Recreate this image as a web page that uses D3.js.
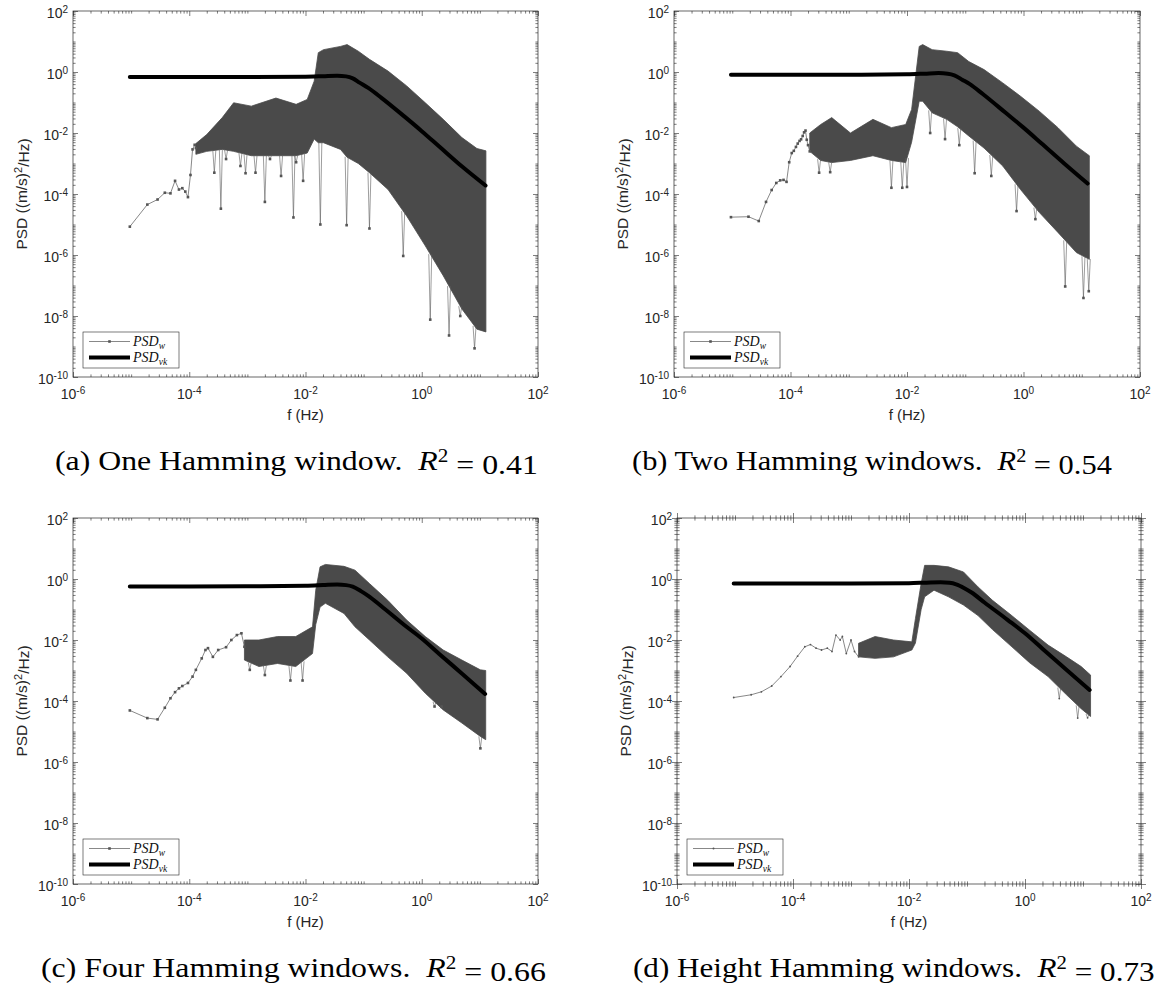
<!DOCTYPE html>
<html><head><meta charset="utf-8">
<script src="https://cdn.jsdelivr.net/npm/d3@7"></script>
<style>body{margin:0;background:#fff} svg{display:block}</style>
</head><body><svg id="c" width="1157" height="987"></svg>
<script>
// ---------- shared ticks / labels ----------
const xTicks=[1e-6,1e-4,1e-2,1,1e2];
const yTicks=[1e-10,1e-8,1e-6,1e-4,1e-2,1,1e2];
const captions=["(a) One Hamming window.","(b) Two Hamming windows.","(c) Four Hamming windows.","(d) Height Hamming windows."];
const r2Values=["0.41","0.54","0.66","0.73"];
const xLabel="f (Hz)";

// ---------- panel (a) ----------
const aSparseF=[9.5e-6,1.9e-5,2.85e-5,3.8e-5,4.75e-5,5.7e-5,6.65e-5,7.6e-5,8.55e-5,9.5e-5,1.05e-4,1.14e-4,1.24e-4,1.3e-4];
const aSparseP=[8.5e-6,4.5e-5,6.6e-5,1.1e-4,1.05e-4,2.7e-4,1.4e-4,1.55e-4,1.2e-4,7.9e-5,4.2e-4,2.9e-3,4.1e-3,3.2e-3];
const aBandF=[1.3e-4,2.0e-4,3.7e-4,5.8e-4,1.17e-3,3.1e-3,6.9e-3,1.07e-2,1.41e-2,1.66e-2,2.04e-2,4.0e-2,5.2e-2,8.1e-2,0.126,0.263,0.55,1.15,2.34,4.9,8.9,12.7];
const aBandHi=[4.5e-3,8.9e-3,3.2e-2,9.8e-2,7.6e-2,0.14,8.7e-2,0.126,0.5,4.3,5.4,6.9,7.9,4.8,2.6,1.07,0.35,9.8e-2,2.8e-2,7.1e-3,3.1e-3,2.6e-3];
const aBandLo=[2.0e-3,2.5e-3,2.9e-3,2.5e-3,1.8e-3,1.8e-3,1.8e-3,2.2e-3,6.3e-3,4.8e-3,4.8e-3,2.9e-3,1.6e-3,1e-3,5e-4,1.4e-4,1.9e-5,2e-6,2.1e-7,1.7e-8,3.7e-9,3e-9];
const aSpikeF=[2.7e-4,3.5e-4,4.3e-4,7.6e-4,9.3e-4,1.38e-3,2.0e-3,2.45e-3,3.8e-3,6.2e-3,6.9e-3,9.1e-3,1.8e-2,5.1e-2,0.126,0.48,1.4,2.95,4.6,8.1];
const aSpikeP=[5e-4,3.3e-5,1.4e-3,8.3e-4,4.8e-4,5e-4,5.5e-5,1.4e-3,3.9e-4,1.7e-5,1.1e-3,2.7e-4,1e-5,9.5e-6,7.4e-6,9.3e-7,7.6e-9,2.3e-9,1e-8,8.7e-10];
const aVkF=[9.5e-6,1e-4,1e-3,1e-2,2e-2,3.5e-2,5e-2,6.5e-2,8.5e-2,0.12,0.2,0.5,1,2,5,12.5];
const aVkP=[0.68,0.68,0.68,0.70,0.73,0.76,0.72,0.62,0.45,0.3,0.145,0.035,0.0115,0.0036,0.00078,0.00019];

// ---------- panel (b) ----------
const bSparseF=[9.5e-6,1.9e-5,2.85e-5,3.8e-5,4.75e-5,5.7e-5,6.65e-5,7.6e-5,8.55e-5,9.5e-5,1.05e-4,1.14e-4,1.24e-4,1.33e-4,1.43e-4,1.52e-4,1.62e-4,1.71e-4,1.81e-4,1.9e-4,2.0e-4,2.14e-4];
const bSparseP=[1.74e-5,1.8e-5,1.3e-5,5.5e-5,1.35e-4,2.3e-4,2.8e-4,2.9e-4,2.5e-4,1.1e-3,2.2e-3,2.6e-3,3.5e-3,4.5e-3,5.5e-3,6.2e-3,8e-3,1.05e-2,1.2e-2,6e-3,4e-3,2.5e-3];
const bBandF=[2.14e-4,3.3e-4,5.1e-4,1.07e-3,2.6e-3,5.4e-3,9.5e-3,1.2e-2,1.62e-2,1.86e-2,2.7e-2,4.8e-2,7.4e-2,0.115,0.21,0.44,0.89,1.86,3.9,8.1,13.5];
const bBandHi=[1.0e-2,1.9e-2,3.2e-2,1.0e-2,2.8e-2,1.5e-2,1.9e-2,5.9e-2,6.9,7.9,5.4,4.8,4.3,2.2,1.2,0.44,0.16,5.2e-2,1.5e-2,3.7e-3,1.8e-3];
const bBandLo=[2.5e-3,1.26e-3,1.07e-3,1.26e-3,1.8e-3,1.26e-3,1.07e-3,5e-3,0.11,0.11,4.6e-2,2.8e-2,1.6e-2,8e-3,3.2e-3,8.3e-4,1.4e-4,2.5e-5,5.5e-6,1.2e-6,7.2e-7];
const bSpikeF=[3.1e-4,4.8e-4,5.4e-3,8.3e-3,1e-2,2.5e-2,4.5e-2,7.9e-2,0.145,0.28,0.76,1.6,5.2,10.7,13.2];
const bSpikeP=[5e-4,5.2e-4,1.6e-4,1.6e-4,1.7e-4,1e-2,6.3e-3,4e-3,4.8e-4,3.9e-4,2.75e-5,1.5e-5,9.3e-8,3.9e-8,6.5e-8];
const bVkF=[9.5e-6,1e-4,1e-3,1e-2,2e-2,3.5e-2,5e-2,6.5e-2,9e-2,0.12,0.2,0.5,1,2,5,12.6];
const bVkP=[0.81,0.81,0.81,0.84,0.88,0.92,0.88,0.78,0.55,0.4,0.19,0.045,0.015,0.0047,0.001,0.00022];

// ---------- panel (c) ----------
const cSparseF=[9.5e-6,1.9e-5,2.85e-5,3.8e-5,4.75e-5,5.7e-5,6.65e-5,7.6e-5,9.5e-5,1.14e-4,1.3e-4,1.64e-4,1.9e-4,2.1e-4,2.55e-4,3.15e-4,4.3e-4,5.3e-4,6.6e-4,7.9e-4,8.9e-4];
const cSparseP=[4.9e-5,2.75e-5,2.5e-5,6e-5,1.23e-4,1.95e-4,2.6e-4,3.1e-4,3.9e-4,6.3e-4,1.05e-3,2.5e-3,4.7e-3,5.4e-3,2.8e-3,4.7e-3,5.8e-3,1.0e-2,1.45e-2,1.66e-2,6e-3];
const cBandF=[8.9e-4,1.58e-3,3.3e-3,6.8e-3,1.32e-2,1.5e-2,1.78e-2,2.2e-2,4.6e-2,7.1e-2,0.126,0.26,0.55,1.15,2.34,4.9,10.2,12.6];
const cBandHi=[1.0e-2,1.0e-2,1.3e-2,1.3e-2,2.7e-2,0.43,2.5,3.0,2.6,1.95,0.71,0.2,4.5e-2,1.3e-2,4.7e-3,2.2e-3,1.05e-3,1.0e-3];
const cBandLo=[2.2e-3,1.35e-3,1.7e-3,1.35e-3,3.6e-3,3.2e-2,0.12,0.16,7.4e-2,2.7e-2,1e-2,2.8e-3,8.1e-4,1.8e-4,5.1e-5,1.9e-5,6.9e-6,5.4e-6];
const cSpikeF=[1.1e-3,2.0e-3,5.5e-3,8.9e-3,1.66,2.2,10.2];
const cSpikeP=[1.05e-3,7.1e-4,4.7e-4,4.7e-4,6.6e-5,6.6e-5,2.8e-6];
const cVkF=[9.5e-6,1e-4,1e-3,1e-2,2e-2,3.5e-2,5e-2,6.5e-2,9e-2,0.12,0.2,0.5,1,2,5,12.3];
const cVkP=[0.57,0.57,0.58,0.60,0.63,0.66,0.63,0.56,0.4,0.28,0.13,0.031,0.0112,0.0035,0.00077,0.00017];

// ---------- panel (d) ----------
const dSparseF=[9.5e-6,1.9e-5,2.85e-5,4.3e-5,6.2e-5,8.9e-5,1.2e-4,1.6e-4,2.0e-4,2.5e-4,3.1e-4,3.9e-4,4.7e-4,5.5e-4,6.5e-4,7.1e-4,8.3e-4,1.0e-3,1.15e-3,1.35e-3];
const dSparseP=[1.3e-4,1.6e-4,2.0e-4,3.1e-4,6.3e-4,1.35e-3,2.95e-3,6.0e-3,7.1e-3,5.4e-3,4.7e-3,5.4e-3,4.2e-3,1.45e-2,1.0e-2,1.3e-2,3.6e-3,1.0e-2,4.2e-3,2.8e-3];
const dBandF=[1.35e-3,2.6e-3,5.4e-3,1.12e-2,1.29e-2,1.62e-2,1.86e-2,2.7e-2,4.8e-2,8.7e-2,0.155,0.275,0.575,1.2,2.5,5.2,9.3,13.5];
const dBandHi=[7.8e-3,1.3e-2,1.0e-2,8.7e-3,5e-2,0.71,2.8,2.8,2.5,1.7,0.55,0.2,6.6e-2,2.1e-2,6.8e-3,2.8e-3,1.35e-3,7.1e-4];
const dBandLo=[2.8e-3,2.5e-3,2.8e-3,4.7e-3,7.9e-3,0.1,0.26,0.43,0.26,0.14,6.3e-2,2.2e-2,6.3e-3,1.8e-3,6.3e-4,1.6e-4,5.6e-5,3.1e-5];
const dSpikeF=[3.9,8.1,12];
const dSpikeP=[1.2e-4,2.75e-5,2.8e-5];
const dVkF=[9.5e-6,1e-4,1e-3,1e-2,2e-2,3.5e-2,5e-2,6.5e-2,9e-2,0.12,0.2,0.5,1,2,5,13];
const dVkP=[0.71,0.71,0.71,0.73,0.76,0.78,0.75,0.67,0.5,0.36,0.17,0.046,0.0166,0.0052,0.00113,0.00023];

// ---------- layout ----------
const layout=[
 {L:73,R:538,T:11,B:377,capX:55,capW:483,capY:470,tickBoth:false,mk:'sq'},
 {L:674,R:1140,T:11,B:377,capX:632,capW:480,capY:470,tickBoth:false,mk:'sq'},
 {L:73,R:538,T:518,B:884,capX:41,capW:505,capY:977,tickBoth:false,mk:'sq'},
 {L:677,R:1141,T:518,B:884,capX:633,capW:522,capY:977,tickBoth:true,mk:'dot'}
];
const series=[
 {sF:aSparseF,sP:aSparseP,bF:aBandF,bH:aBandHi,bL:aBandLo,kF:aSpikeF,kP:aSpikeP,vF:aVkF,vP:aVkP},
 {sF:bSparseF,sP:bSparseP,bF:bBandF,bH:bBandHi,bL:bBandLo,kF:bSpikeF,kP:bSpikeP,vF:bVkF,vP:bVkP},
 {sF:cSparseF,sP:cSparseP,bF:cBandF,bH:cBandHi,bL:cBandLo,kF:cSpikeF,kP:cSpikeP,vF:cVkF,vP:cVkP},
 {sF:dSparseF,sP:dSparseP,bF:dBandF,bH:dBandHi,bL:dBandLo,kF:dSpikeF,kP:dSpikeP,vF:dVkF,vP:dVkP}
];

const AX='#262626', PSDC='#4a4a4a';
const SANS='Liberation Sans, Arial, Helvetica, sans-serif';
const SERIF='Liberation Serif, Times New Roman, serif';
const svg=d3.select('#c');

function minors(lo,hi,majors){
  const out=[];
  for(let e=lo;e<hi;e++) for(let m=1;m<=9;m++){
    const v=m*Math.pow(10,e);
    if(!majors.some(t=>Math.abs(Math.log10(t)-Math.log10(v))<1e-9)) out.push(v);
  }
  return out;
}
const xMinor=minors(-6,2,xTicks), yMinor=minors(-10,2,yTicks);

function pow10Label(sel,v){
  const e=Math.round(Math.log10(v));
  sel.append('tspan').text('10');
  sel.append('tspan').attr('dy','-0.5em').attr('font-size','10px').text(String(e));
}

function drawPanel(lay,ser,idx){
  const {L,R,T,B}=lay;
  const x=d3.scaleLog().domain([1e-6,1e2]).range([L,R]);
  const y=d3.scaleLog().domain([1e-10,1e2]).range([B,T]);
  const g=svg.append('g');

  // band (dense PSD)
  const band=ser.bF.map((f,i)=>({f,hi:ser.bH[i],lo:ser.bL[i]}));
  g.append('path').datum(band)
    .attr('d',d3.area().x(d=>x(d.f)).y0(d=>y(d.lo)).y1(d=>y(d.hi)))
    .attr('fill',PSDC).attr('stroke',PSDC).attr('stroke-width',0.8);

  // spikes
  const loI=d3.scaleLog().domain(ser.bF).range(ser.bL.map(v=>Math.log10(v)));
  const spikes=ser.kF.map((f,i)=>({f,p:ser.kP[i],base:Math.pow(10,loI(f))}));
  g.selectAll('.spk').data(spikes).join('path')
    .attr('d',d=>`M${x(d.f)-1.5},${y(d.base)}L${x(d.f)},${y(d.p)}L${x(d.f)+1.5},${y(d.base)}`)
    .attr('fill','none').attr('stroke','#5a5a5a').attr('stroke-width',0.6);

  // sparse PSD line
  const sp=ser.sF.map((f,i)=>({f,p:ser.sP[i]}));
  g.append('path').datum(sp).attr('d',d3.line().x(d=>x(d.f)).y(d=>y(d.p)))
    .attr('fill','none').attr('stroke','#555').attr('stroke-width',0.7);
  const mkData=sp.concat(spikes.map(d=>({f:d.f,p:d.p})));
  if(lay.mk==='sq'){
    g.selectAll('.mk').data(mkData).join('rect')
      .attr('x',d=>x(d.f)-1.3).attr('y',d=>y(d.p)-1.3).attr('width',2.6).attr('height',2.6)
      .attr('fill','#555');
  } else {
    g.selectAll('.mk').data(mkData).join('circle')
      .attr('cx',d=>x(d.f)).attr('cy',d=>y(d.p)).attr('r',0.9).attr('fill','#555');
  }

  // von Karman
  const vk=ser.vF.map((f,i)=>({f,p:ser.vP[i]}));
  g.append('path').datum(vk).attr('d',d3.line().curve(d3.curveMonotoneX).x(d=>x(d.f)).y(d=>y(d.p)))
    .attr('fill','none').attr('stroke','#000').attr('stroke-width',4).attr('stroke-linecap','round');

  // axes ticks (inward; panel d both ways)
  const maj=5, mnr=2.6;
  function tickAxis(axisGen,scale,vals,size,transform){
    const a=axisGen(scale).tickValues(vals).tickSize(size).tickFormat('').tickSizeOuter(0);
    const ag=g.append('g').attr('transform',transform).call(a);
    ag.select('.domain').remove();
    ag.selectAll('line').attr('stroke',AX).attr('stroke-width',0.6);
    return ag;
  }
  const dirs=lay.tickBoth?[1,-1]:[1];
  dirs.forEach(s=>{
    tickAxis(d3.axisBottom,x,xTicks,-maj*s,`translate(0,${B})`);
    tickAxis(d3.axisBottom,x,xMinor,-mnr*s,`translate(0,${B})`);
    tickAxis(d3.axisTop,x,xTicks,-maj*s,`translate(0,${T})`);
    tickAxis(d3.axisTop,x,xMinor,-mnr*s,`translate(0,${T})`);
    tickAxis(d3.axisLeft,y,yTicks,-maj*s,`translate(${L},0)`);
    tickAxis(d3.axisLeft,y,yMinor,-mnr*s,`translate(${L},0)`);
    tickAxis(d3.axisRight,y,yTicks,-maj*s,`translate(${R},0)`);
    tickAxis(d3.axisRight,y,yMinor,-mnr*s,`translate(${R},0)`);
  });
  g.append('rect').attr('x',L).attr('y',T).attr('width',R-L).attr('height',B-T)
    .attr('fill','none').attr('stroke',AX).attr('stroke-width',0.7);

  // tick labels
  xTicks.forEach(v=>{
    const t=g.append('text').attr('x',x(v)).attr('y',B+22).attr('text-anchor','middle')
      .attr('font-family',SANS).attr('font-size','14px').attr('fill',AX);
    pow10Label(t,v);
  });
  yTicks.forEach(v=>{
    const t=g.append('text').attr('x',L-5).attr('y',y(v)+7).attr('text-anchor','end')
      .attr('font-family',SANS).attr('font-size','14px').attr('fill',AX);
    pow10Label(t,v);
  });

  // axis labels
  g.append('text').attr('x',(L+R)/2).attr('y',B+43).attr('text-anchor','middle')
    .attr('font-family',SANS).attr('font-size','15px').attr('fill',AX)
    .text(xLabel);
  const yl=g.append('text').attr('transform',`translate(${L-46},${(T+B)/2}) rotate(-90)`)
    .attr('text-anchor','middle').attr('font-family',SANS)
    .attr('font-size','15.5px').attr('fill',AX);
  yl.append('tspan').text('PSD ((m/s)');
  yl.append('tspan').attr('dy','-0.45em').attr('font-size','11px').text('2');
  yl.append('tspan').attr('dy','0.45em').text('/Hz)');

  // legend
  const lg=g.append('g').attr('transform',`translate(${L+10},${B-45})`);
  lg.append('rect').attr('width',96).attr('height',36).attr('fill','#fff').attr('stroke',AX).attr('stroke-width',0.6);
  lg.append('line').attr('x1',6).attr('x2',47).attr('y1',9.5).attr('y2',9.5).attr('stroke','#555').attr('stroke-width',0.7);
  if(lay.mk==='sq') lg.append('rect').attr('x',25.2).attr('y',8.2).attr('width',2.6).attr('height',2.6).attr('fill','#555');
  else lg.append('circle').attr('cx',26.5).attr('cy',9.5).attr('r',1).attr('fill','#555');
  lg.append('line').attr('x1',6).attr('x2',47).attr('y1',25.5).attr('y2',25.5).attr('stroke','#000').attr('stroke-width',4);
  [['w',14],['vk',30]].forEach(([sub,yy])=>{
    const t=lg.append('text').attr('x',50).attr('y',yy).attr('font-family',SERIF)
      .attr('font-style','italic').attr('font-size','14px').attr('fill','#111');
    t.append('tspan').text('PSD');
    t.append('tspan').attr('dy','2.5').attr('font-size','9.5px').text(sub);
  });

  // caption
  const cap=svg.append('text').attr('font-family',SERIF)
    .attr('font-size','27px').attr('fill','#000');
  cap.append('tspan').text(captions[idx]+'\u2002');
  cap.append('tspan').attr('font-style','italic').text('R');
  cap.append('tspan').attr('dy','-0.45em').attr('font-size','18px').text('2');
  cap.append('tspan').attr('dy','0.45em').text(' = '+r2Values[idx]);
  const w=cap.node().getComputedTextLength();
  cap.attr('transform',`translate(${lay.capX},${lay.capY}) scale(${lay.capW/w},1)`);
}

layout.forEach((lay,i)=>drawPanel(lay,series[i],i));
</script></body></html>
